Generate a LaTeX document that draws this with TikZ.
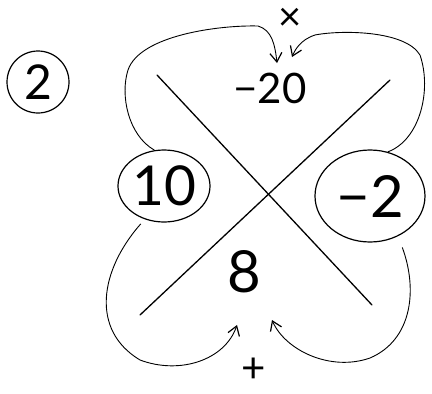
\documentclass[tikz,border=0pt]{standalone}
\usepackage{fontspec}
\setmainfont{Lato}
\usetikzlibrary{arrows.meta,shapes.geometric}

\tikzset{
  num/.style={font=\fontsize{50}{60}\selectfont, inner sep=0pt},
  ring/.style={draw, line width=1.2pt, ellipse},
  loop/.style={line width=0.9pt, -{Straight Barb[length=9pt,width=12pt,line width=1.2pt]}},
  cross/.style={line width=1.3pt, line cap=round}
}

\begin{document}
\begin{tikzpicture}[x=1pt,y=-1pt]
\useasboundingbox (0,0) rectangle (432,394);

% problem number
\node[ring, circle, minimum size=62pt, inner sep=0pt, font=\fontsize{48}{50}\selectfont] (nr) at (38,82) {2};

% the X
\draw[cross] (157,75) -- (372,305);
\draw[cross] (390,80) -- (140,315);

% numbers
\node[num, font=\fontsize{42}{50}\selectfont] (top) at (270,88) {−20};
\node[num, font=\fontsize{58}{60}\selectfont] (bot) at (244,272) {8};
\node[ring, minimum width=92pt, minimum height=72pt, inner sep=0pt,
      font=\fontsize{55}{60}\selectfont] (left) at (164,186) {10};
\node[ring, minimum width=110pt, minimum height=92pt, inner sep=0pt,
      font=\fontsize{58}{60}\selectfont] (right) at (370,196) {−2};

% operations
\node[num, font=\fontsize{40}{40}\selectfont] (prod) at (290,19) {×};
\node[num, font=\fontsize{42}{42}\selectfont] (sum) at (254,370) {+};

\coordinate (tl) at (277,63);
\coordinate (tr) at (292,57);
\coordinate (bl) at (237,325);
\coordinate (br) at (272,320);

% product arrows
\draw[loop] (left.105) .. controls (128,135) and (120,95) .. (128,70)
  .. controls (140,35) and (220,25) .. (258,26)
  .. controls (272,30) and (275,45) .. (tl);
\draw[loop] (right.68) .. controls (420,140) and (432,90) .. (420,55)
  .. controls (405,30) and (340,30) .. (315,35)
  .. controls (300,40) and (295,50) .. (tr);

% sum arrows
\draw[loop, shorten <=6pt] (left.240) .. controls (100,270) and (90,330) .. (140,360)
  .. controls (180,375) and (225,360) .. (bl);
\draw[loop, shorten <=12pt] (right.-55) .. controls (418,290) and (412,340) .. (370,358)
  .. controls (330,372) and (285,350) .. (br);
\end{tikzpicture}
\end{document}
